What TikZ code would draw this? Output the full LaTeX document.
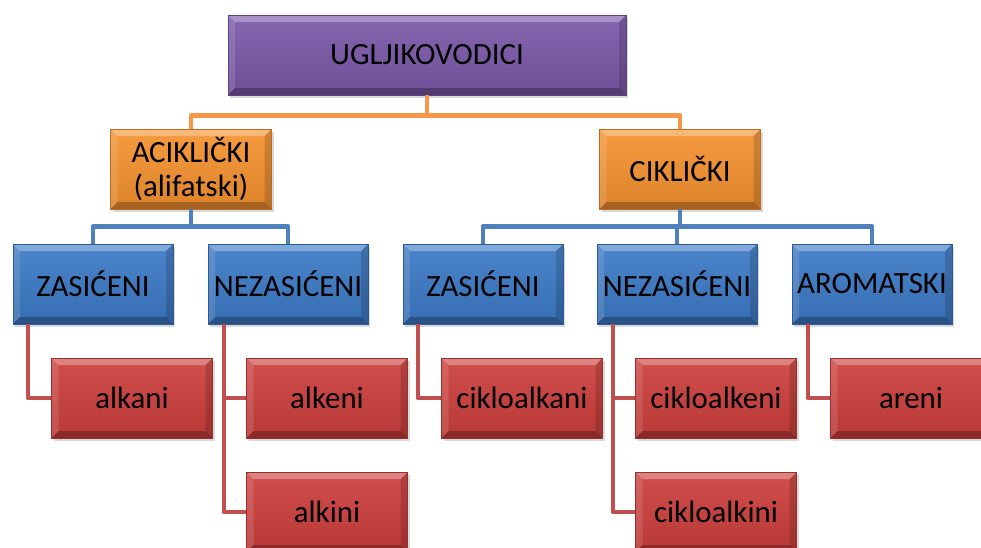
\documentclass[tikz,border=0pt]{standalone}
\usepackage{fontspec}
\setmainfont{Carlito}
\usetikzlibrary{shadows}

\definecolor{ugpurple}{HTML}{7B58A8}
\definecolor{ugorange}{HTML}{F5922F}
\definecolor{ugblue}{HTML}{3C7AC6}
\definecolor{ugred}{HTML}{CC3F3C}
\definecolor{lnorange}{HTML}{F79646}
\definecolor{lnblue}{HTML}{4F81BD}
\definecolor{lnred}{HTML}{C0504D}

\tikzset{
  box/.style={draw=#1!75!black,line width=0.5bp,top color=#1!92!white,bottom color=#1!90!black,
    minimum width=161bp,minimum height=80bp,inner sep=0pt,align=center,
    font=\fontsize{31}{35}\selectfont,
    drop shadow={opacity=0.3,shadow xshift=2bp,shadow yshift=-3bp},
    path picture={
      \fill[white,opacity=0.3] (path picture bounding box.north west) -- (path picture bounding box.north east)
        -- ([xshift=-7bp,yshift=-7bp]path picture bounding box.north east) -- ([xshift=7bp,yshift=-7bp]path picture bounding box.north west) -- cycle;
      \fill[white,opacity=0.12] (path picture bounding box.north west) -- (path picture bounding box.south west)
        -- ([xshift=7bp,yshift=7bp]path picture bounding box.south west) -- ([xshift=7bp,yshift=-7bp]path picture bounding box.north west) -- cycle;
      \fill[black,opacity=0.25] (path picture bounding box.south west) -- (path picture bounding box.south east)
        -- ([xshift=-7bp,yshift=7bp]path picture bounding box.south east) -- ([xshift=7bp,yshift=7bp]path picture bounding box.south west) -- cycle;
      \fill[black,opacity=0.15] (path picture bounding box.north east) -- (path picture bounding box.south east)
        -- ([xshift=-7bp,yshift=7bp]path picture bounding box.south east) -- ([xshift=-7bp,yshift=-7bp]path picture bounding box.north east) -- cycle;
    }},
  link/.style={draw=#1,line width=4.5bp,line join=round}
}

\begin{document}
\begin{tikzpicture}

\useasboundingbox (0bp,0bp) rectangle (981bp,-548bp);
\clip (0bp,0bp) rectangle (981bp,-548bp);

% top
\node (root) at (427bp,-55bp)[box=ugpurple,minimum width=398bp] {UGLJIKOVODICI};

% second row
\node (acik) at (191bp,-169bp)[box=ugorange] {ACIKLIČKI\\(alifatski)};
\node (cik) at (680bp,-169bp)[box=ugorange] {CIKLIČKI};

% third row
\node (zas1) at (93bp,-284bp)[box=ugblue,minimum width=160bp] {ZASIĆENI};
\node (nez1) at (288bp,-284bp)[box=ugblue,minimum width=160bp] {NEZASIĆENI};
\node (zas2) at (483bp,-284bp)[box=ugblue,minimum width=160bp] {ZASIĆENI};
\node (nez2) at (677bp,-284bp)[box=ugblue,minimum width=160bp] {NEZASIĆENI};
\node (arom) at (872bp,-284bp)[box=ugblue,minimum width=160bp] {AROMATSKI};

% leaves
\node (alkani) at (132bp,-398bp)[box=ugred] {alkani};
\node (alkeni) at (327bp,-398bp)[box=ugred] {alkeni};
\node (alkini) at (327bp,-512bp)[box=ugred] {alkini};
\node (cane) at (522bp,-398bp)[box=ugred] {cikloalkani};
\node (cene) at (716bp,-398bp)[box=ugred] {cikloalkeni};
\node (cine) at (716bp,-512bp)[box=ugred] {cikloalkini};
\node (areni) at (911bp,-398bp)[box=ugred] {areni};

% connectors
\draw [link=lnorange] (root.south) -- +(0,-20bp) -| (acik.north);
\draw [link=lnorange] (root.south) -- +(0,-20bp) -| (cik.north);
\draw [link=lnblue] (acik.south) -- +(0,-17bp) -| (zas1.north);
\draw [link=lnblue] (acik.south) -- +(0,-17bp) -| (nez1.north);
\draw [link=lnblue] (cik.south) -- +(0,-17bp) -| (zas2.north);
\draw [link=lnblue] (cik.south) -- +(0,-17bp) -| (nez2.north);
\draw [link=lnblue] (cik.south) -- +(0,-17bp) -| (arom.north);
\draw [link=lnred] ([xshift=15bp]zas1.south west) |- (alkani.west);
\draw [link=lnred] ([xshift=16bp]nez1.south west) |- (alkeni.west);
\draw [link=lnred] ([xshift=16bp]nez1.south west) |- (alkini.west);
\draw [link=lnred] ([xshift=15bp]zas2.south west) |- (cane.west);
\draw [link=lnred] ([xshift=16bp]nez2.south west) |- (cene.west);
\draw [link=lnred] ([xshift=16bp]nez2.south west) |- (cine.west);
\draw [link=lnred] ([xshift=16bp]arom.south west) |- (areni.west);
\end{tikzpicture}
\end{document}
